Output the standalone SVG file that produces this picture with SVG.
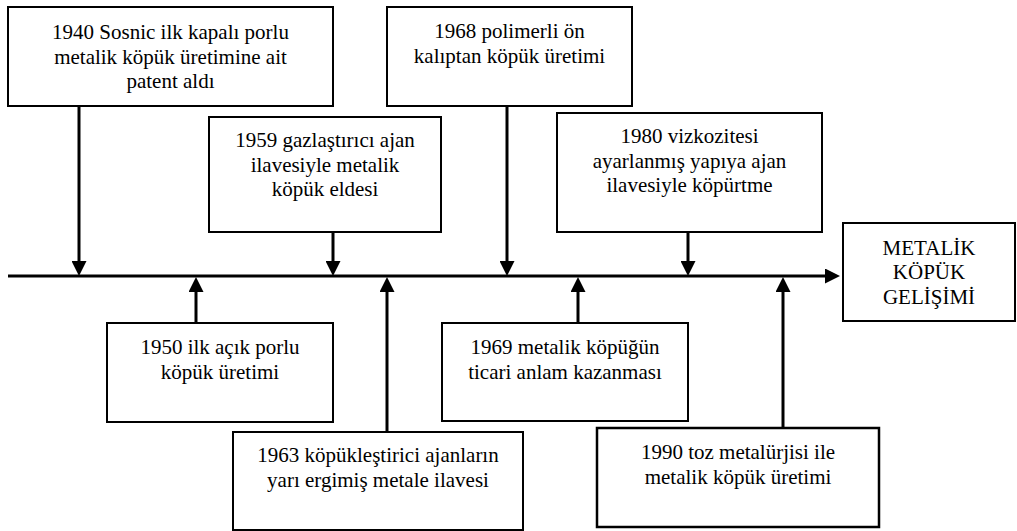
<svg xmlns="http://www.w3.org/2000/svg" width="1017" height="531" viewBox="0 0 1017 531">
<style>
.box{fill:#fff;stroke:#000;stroke-width:2}
.t{font-family:"Liberation Serif","Times New Roman",serif;font-size:21px;fill:#000;text-anchor:middle}
.c{stroke:#000;stroke-width:3;fill:none;marker-end:url(#ah)}
</style>
<defs>
<marker id="ah" markerUnits="userSpaceOnUse" markerWidth="15" markerHeight="15" refX="5" refY="7.5" orient="auto">
<path d="M0,0 L15,7.5 L0,15 z" fill="#000"/>
</marker>
</defs>
<rect width="1017" height="531" fill="#fff"/>
<g id="connectors">
<line class="c" x1="8" y1="276" x2="830" y2="276"/>
<line class="c" x1="79" y1="106" x2="79" y2="266"/>
<line class="c" x1="333" y1="232" x2="333" y2="266"/>
<line class="c" x1="507" y1="106" x2="507" y2="266"/>
<line class="c" x1="688" y1="232" x2="688" y2="266"/>
<line class="c" x1="196" y1="323" x2="196" y2="287"/>
<line class="c" x1="387" y1="432" x2="387" y2="287"/>
<line class="c" x1="578" y1="323" x2="578" y2="287"/>
<line class="c" x1="783" y1="428" x2="783" y2="287"/>
</g>
<g id="n1940">
<rect class="box" x="8" y="7" width="325" height="99"/>
<text class="t" x="170.5" y="39">1940 Sosnic ilk kapalı porlu</text>
<text class="t" x="170.5" y="63.5">metalik köpük üretimine ait</text>
<text class="t" x="170.5" y="88">patent aldı</text>
</g>
<g id="n1968">
<rect class="box" x="387" y="7" width="245" height="99"/>
<text class="t" x="509.5" y="38">1968 polimerli ön</text>
<text class="t" x="509.5" y="62.5">kalıptan köpük üretimi</text>
</g>
<g id="n1959">
<rect class="box" x="209" y="117" width="232" height="115"/>
<text class="t" x="325" y="147">1959 gazlaştırıcı ajan</text>
<text class="t" x="325" y="171.5">ilavesiyle metalik</text>
<text class="t" x="325" y="196">köpük eldesi</text>
</g>
<g id="n1980">
<rect class="box" x="557" y="113" width="265" height="119"/>
<text class="t" x="689.5" y="143">1980 vizkozitesi</text>
<text class="t" x="689.5" y="167.5">ayarlanmış yapıya ajan</text>
<text class="t" x="689.5" y="192">ilavesiyle köpürtme</text>
</g>
<g id="nMetalik">
<rect class="box" x="843" y="223" width="172" height="98"/>
<text class="t" x="929" y="254.5">METALİK</text>
<text class="t" x="929" y="279">KÖPÜK</text>
<text class="t" x="929" y="303.5">GELİŞİMİ</text>
</g>
<g id="n1950">
<rect class="box" x="107" y="323" width="226" height="99"/>
<text class="t" x="220" y="354">1950 ilk açık porlu</text>
<text class="t" x="220" y="378.5">köpük üretimi</text>
</g>
<g id="n1969">
<rect class="box" x="442" y="323" width="246" height="98"/>
<text class="t" x="565" y="354">1969 metalik köpüğün</text>
<text class="t" x="565" y="378.5">ticari anlam kazanması</text>
</g>
<g id="n1963">
<rect class="box" x="233" y="432" width="290" height="98"/>
<text class="t" x="378" y="462">1963 köpükleştirici ajanların</text>
<text class="t" x="378" y="486.5">yarı ergimiş metale ilavesi</text>
</g>
<g id="n1990">
<rect class="box" x="597" y="428" width="282" height="99" style="stroke-width:2.5"/>
<text class="t" x="738" y="459">1990 toz metalürjisi ile</text>
<text class="t" x="738" y="483.5">metalik köpük üretimi</text>
</g>
</svg>
